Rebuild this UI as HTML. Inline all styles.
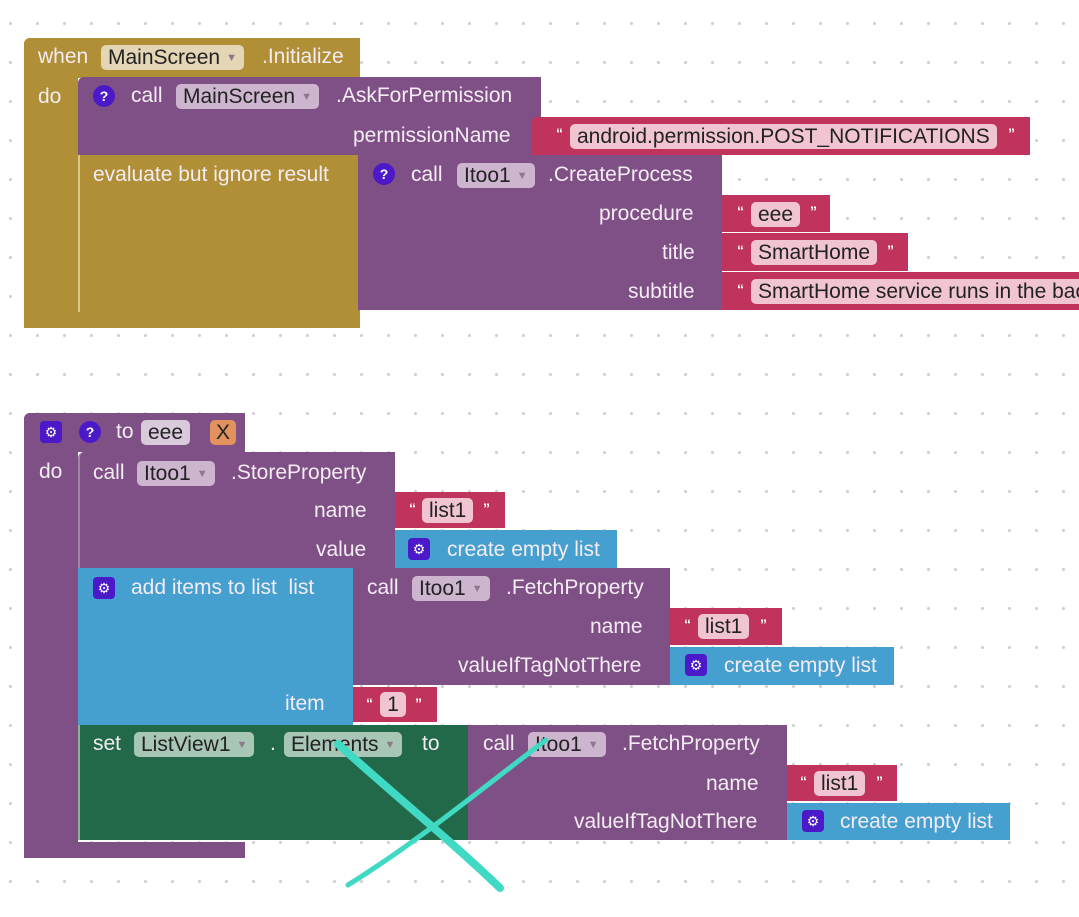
<!DOCTYPE html>
<html><head><meta charset="utf-8">
<style>
body{margin:0;width:1079px;height:917px;overflow:hidden;position:relative;font-family:"Liberation Sans",Arial,sans-serif;font-size:21px;
background-color:#fff;background-image:radial-gradient(circle,#cfcfcf 1.3px,transparent 1.8px);background-size:27px 39px;background-position:-3px 4px;}
.b{position:absolute}
.t{position:absolute;color:#f3ecf3;white-space:nowrap;line-height:22px}
.f{position:absolute;border-radius:5px;color:#222;white-space:nowrap;line-height:25px;height:25px;padding:0 7px;box-sizing:border-box}
.f i{font-style:normal;font-size:11px;color:#8a7a8a;vertical-align:3px;margin-left:6px}
.g{background:#b08f37}.p{background:#7f5085}.r{background:#c0335c}.bl{background:#46a0cf}.gr{background:#22694a}
.fg{background:#e4d6b4}.fp{background:#cdb5cf}.fr{background:#f0c5d1}.fgr{background:#a8c6b6}
.q{position:absolute;width:22px;height:22px;border-radius:50%;background:#4b19c8;color:#fff;font-size:14px;font-weight:bold;text-align:center;line-height:22px}
.c{position:absolute;width:22px;height:22px;border-radius:4px;background:#4b19c8;color:#fff;font-size:14px;text-align:center;line-height:22px}
.o{position:absolute;color:#fff;font-size:14px;font-weight:bold;line-height:14px}
</style></head><body>
<!-- event block -->
<div class="b g" style="left:24px;top:38px;width:336px;height:40px;border-radius:6px 0 0 0"></div>
<div class="b g" style="left:24px;top:38px;width:54px;height:290px;border-radius:6px 0 0 6px"></div>
<div class="b g" style="left:24px;top:312px;width:336px;height:16px"></div>
<div class="t" style="left:38px;top:46px">when</div>
<div class="f fg" style="left:101px;top:45px">MainScreen<i>▼</i></div>
<div class="t" style="left:262px;top:46px">.Initialize</div>
<div class="t" style="left:38px;top:86px">do</div>
<div class="b p" style="left:78px;top:77px;width:463px;height:78px;border-radius:6px 0 0 0"></div>
<div class="q" style="left:93px;top:85px">?</div>
<div class="t" style="left:131px;top:85px">call</div>
<div class="f fp" style="left:176px;top:84px">MainScreen<i>▼</i></div>
<div class="t" style="left:336px;top:85px">.AskForPermission</div>
<div class="t" style="left:353px;top:125px">permissionName</div>
<div class="b r" style="left:532px;top:117px;width:498px;height:38px;border-radius:4px 0 0 0"></div>
<div class="o" style="left:556px;top:126px">“</div>
<div class="f fr" style="left:570px;top:124px">android.permission.POST_NOTIFICATIONS</div>
<div class="o" style="left:1008px;top:126px">”</div>
<div class="b g" style="left:78px;top:155px;width:282px;height:157px;border-left:2px solid #d8c88c;box-sizing:border-box"></div>
<div class="t" style="left:93px;top:164px">evaluate but ignore result</div>
<div class="b p" style="left:358px;top:155px;width:364px;height:155px"></div>
<div class="q" style="left:373px;top:163px">?</div>
<div class="t" style="left:411px;top:164px">call</div>
<div class="f fp" style="left:457px;top:163px">Itoo1<i>▼</i></div>
<div class="t" style="left:548px;top:164px">.CreateProcess</div>
<div class="t" style="left:599px;top:203px">procedure</div>
<div class="t" style="left:662px;top:242px">title</div>
<div class="t" style="left:628px;top:281px">subtitle</div>
<div class="b r" style="left:722px;top:195px;width:108px;height:37px"></div>
<div class="o" style="left:737px;top:204px">“</div>
<div class="f fr" style="left:751px;top:202px">eee</div>
<div class="o" style="left:810px;top:204px">”</div>
<div class="b r" style="left:722px;top:233px;width:186px;height:38px"></div>
<div class="o" style="left:737px;top:243px">“</div>
<div class="f fr" style="left:751px;top:240px">SmartHome</div>
<div class="o" style="left:887px;top:243px">”</div>
<div class="b r" style="left:722px;top:272px;width:357px;height:38px"></div>
<div class="o" style="left:737px;top:282px">“</div>
<div class="f fr" style="left:751px;top:279px;width:328px;overflow:hidden;border-radius:5px 0 0 5px">SmartHome service runs in the background</div>

<!-- procedure block -->
<div class="b p" style="left:24px;top:413px;width:221px;height:39px;border-radius:6px 0 0 0"></div>
<div class="b p" style="left:24px;top:413px;width:54px;height:445px;border-radius:6px 0 0 6px"></div>
<div class="b p" style="left:24px;top:842px;width:221px;height:16px"></div>
<div class="c" style="left:40px;top:421px">⚙</div>
<div class="q" style="left:79px;top:421px">?</div>
<div class="t" style="left:116px;top:421px">to</div>
<div class="f fp" style="left:141px;top:420px;background:#d9cadb">eee</div>
<div class="f" style="left:210px;top:420px;background:#e2925f;width:26px;padding:0;text-align:center">X</div>
<div class="t" style="left:39px;top:461px">do</div>
<div class="b p" style="left:78px;top:452px;width:317px;height:116px;border-left:2px solid #a285a6;box-sizing:border-box;border-radius:6px 0 0 0"></div>
<div class="t" style="left:93px;top:462px">call</div>
<div class="f fp" style="left:137px;top:461px">Itoo1<i>▼</i></div>
<div class="t" style="left:231px;top:462px">.StoreProperty</div>
<div class="t" style="left:314px;top:500px">name</div>
<div class="t" style="left:316px;top:539px">value</div>
<div class="b r" style="left:395px;top:492px;width:110px;height:36px"></div>
<div class="o" style="left:409px;top:501px">“</div>
<div class="f fr" style="left:422px;top:498px">list1</div>
<div class="o" style="left:483px;top:501px">”</div>
<div class="b bl" style="left:395px;top:530px;width:222px;height:38px"></div>
<div class="c" style="left:408px;top:538px">⚙</div>
<div class="t" style="left:447px;top:539px">create empty list</div>
<div class="b bl" style="left:78px;top:568px;width:275px;height:157px"></div>
<div class="c" style="left:93px;top:577px">⚙</div>
<div class="t" style="left:131px;top:577px">add items to list &nbsp;list</div>
<div class="t" style="left:285px;top:693px">item</div>
<div class="b p" style="left:353px;top:568px;width:317px;height:117px"></div>
<div class="t" style="left:367px;top:577px">call</div>
<div class="f fp" style="left:412px;top:576px">Itoo1<i>▼</i></div>
<div class="t" style="left:506px;top:577px">.FetchProperty</div>
<div class="t" style="left:590px;top:616px">name</div>
<div class="t" style="left:458px;top:655px">valueIfTagNotThere</div>
<div class="b r" style="left:670px;top:608px;width:112px;height:37px"></div>
<div class="o" style="left:684px;top:617px">“</div>
<div class="f fr" style="left:698px;top:614px">list1</div>
<div class="o" style="left:760px;top:617px">”</div>
<div class="b bl" style="left:670px;top:647px;width:224px;height:38px"></div>
<div class="c" style="left:685px;top:654px">⚙</div>
<div class="t" style="left:724px;top:655px">create empty list</div>
<div class="b r" style="left:353px;top:687px;width:84px;height:35px"></div>
<div class="o" style="left:366px;top:696px">“</div>
<div class="f fr" style="left:380px;top:692px;width:26px;padding:0;text-align:center">1</div>
<div class="o" style="left:415px;top:696px">”</div>
<div class="b gr" style="left:78px;top:725px;width:390px;height:115px;border-left:2px solid #8fb09f;box-sizing:border-box"></div>
<div class="t" style="left:93px;top:733px">set</div>
<div class="f fgr" style="left:134px;top:732px">ListView1<i>▼</i></div>
<div class="t" style="left:270px;top:733px">.</div>
<div class="f fgr" style="left:284px;top:732px">Elements<i>▼</i></div>
<div class="t" style="left:422px;top:733px">to</div>
<div class="b p" style="left:468px;top:725px;width:319px;height:115px"></div>
<div class="t" style="left:483px;top:733px">call</div>
<div class="f fp" style="left:528px;top:732px">Itoo1<i>▼</i></div>
<div class="t" style="left:622px;top:733px">.FetchProperty</div>
<div class="t" style="left:706px;top:773px">name</div>
<div class="t" style="left:574px;top:811px">valueIfTagNotThere</div>
<div class="b r" style="left:787px;top:765px;width:110px;height:36px"></div>
<div class="o" style="left:800px;top:774px">“</div>
<div class="f fr" style="left:814px;top:771px">list1</div>
<div class="o" style="left:876px;top:774px">”</div>
<div class="b bl" style="left:787px;top:803px;width:223px;height:37px"></div>
<div class="c" style="left:802px;top:810px">⚙</div>
<div class="t" style="left:840px;top:811px">create empty list</div>

<svg class="b" style="left:0;top:0" width="1079" height="917">
<path d="M338 744 C400 800,450 840,500 888" stroke="#3fd9c4" stroke-width="8" fill="none" stroke-linecap="round"/>
<path d="M546 740 C480 790,420 840,348 885" stroke="#3fd9c4" stroke-width="5" fill="none" stroke-linecap="round"/>
</svg>
</body></html>
